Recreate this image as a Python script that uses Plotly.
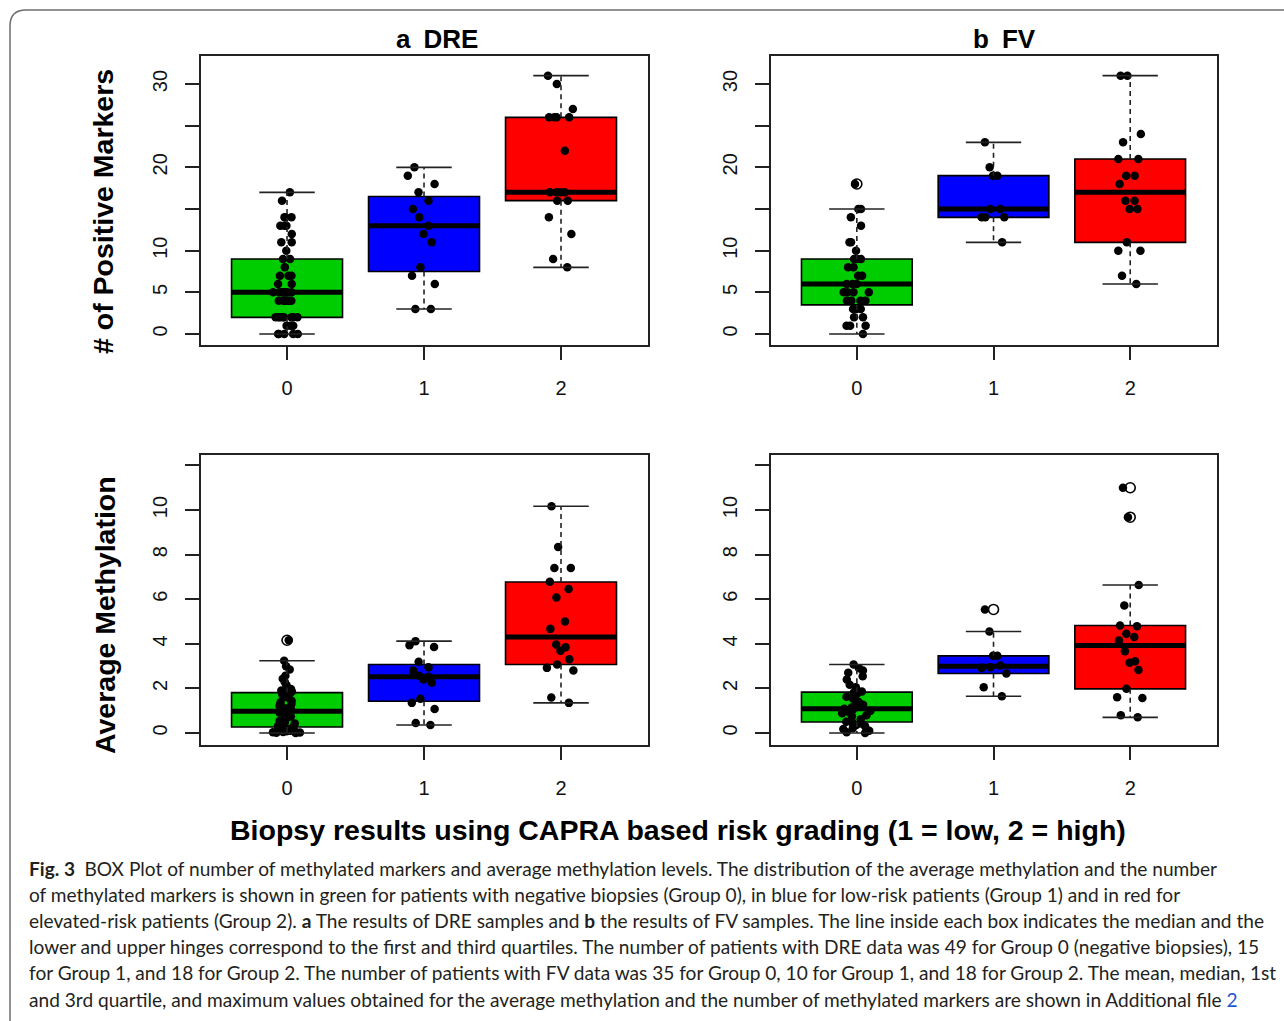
import plotly.graph_objects as go

W, H = 1284, 1021

groups = [0, 1, 2]
group_labels = ["0", "1", "2"]
box_colors = ["#00CD00", "#0000FF", "#FF0000"]

# ---------------- a DRE : number of positive markers ----------------
dre_n_g0 = [17, 16, 14, 14, 14, 13, 13, 13, 12, 11, 11, 10, 9, 9, 8, 7, 7, 7, 6, 6,
            5, 5, 5, 5, 5, 5, 5, 4, 4, 4, 4, 4, 4, 2, 2, 2, 2, 2, 2, 2, 2, 1, 1, 1,
            0, 0, 0, 0, 0]
dre_n_g1 = [20, 19, 18, 17, 16, 15, 14, 13, 12, 11, 8, 7, 6, 3, 3]
dre_n_g2 = [31, 30, 27, 26, 26, 26, 26, 22, 17, 17, 17, 17, 16, 16, 14, 12, 9, 8]
dre_n_q1 = [2, 7.5, 16]
dre_n_med = [5, 13, 17]
dre_n_q3 = [9, 16.5, 26]
dre_n_lo = [0, 3, 8]
dre_n_hi = [17, 20, 31]
dre_n_out = [[], [], []]

# ---------------- b FV : number of positive markers ----------------
fv_n_g0 = [18, 15, 15, 14, 13, 11, 11, 10, 9, 9, 9, 8, 8, 7, 7, 6, 6, 6, 5, 5, 5, 5,
           4, 4, 4, 4, 3, 3, 3, 2, 2, 1, 1, 1, 0]
fv_n_g1 = [23, 20, 19, 19, 15, 15, 14, 14, 14, 11]
fv_n_g2 = [31, 31, 24, 23, 21, 21, 19, 19, 18, 16, 16, 15, 15, 11, 10, 10, 7, 6]
fv_n_q1 = [3.5, 14, 11]
fv_n_med = [6, 15, 17]
fv_n_q3 = [9, 19, 21]
fv_n_lo = [0, 11, 6]
fv_n_hi = [15, 23, 31]
fv_n_out = [[18], [], []]

# ---------------- a DRE : average methylation ----------------
dre_m_g0 = [4.16, 3.24, 2.99, 2.85, 2.57, 2.43, 2.28, 2.14, 1.97, 1.91, 1.86, 1.83, 1.81,
            1.72, 1.62, 1.57, 1.45, 1.38, 1.30, 1.22, 1.15, 1.10, 1.05, 1.02, 0.97, 0.92,
            0.85, 0.80, 0.74, 0.68, 0.62, 0.55, 0.48, 0.42, 0.36, 0.31, 0.27, 0.22, 0.18,
            0.15, 0.12, 0.10, 0.08, 0.06, 0.04, 0.03, 0.02, 0.01, 0.0]
dre_m_g1 = [4.12, 3.94, 3.86, 3.19, 2.95, 2.80, 2.57, 2.52, 2.40, 2.25, 1.53, 1.35, 1.08,
            0.45, 0.36]
dre_m_g2 = [10.17, 8.34, 7.40, 7.40, 6.78, 6.46, 6.08, 5.00, 4.67, 3.97, 3.85, 3.69, 3.31,
            3.07, 2.92, 2.80, 1.59, 1.35]
dre_m_q1 = [0.27, 1.42, 3.07]
dre_m_med = [0.97, 2.52, 4.31]
dre_m_q3 = [1.81, 3.07, 6.77]
dre_m_lo = [0.0, 0.36, 1.35]
dre_m_hi = [3.24, 4.12, 10.17]
dre_m_out = [[4.16], [], []]

# ---------------- b FV : average methylation ----------------
fv_m_g0 = [3.07, 2.90, 2.80, 2.70, 2.54, 2.40, 2.16, 2.05, 1.86, 1.80, 1.75, 1.62, 1.53,
           1.40, 1.27, 1.20, 1.15, 1.09, 1.05, 1.00, 0.95, 0.88, 0.80, 0.75, 0.62, 0.50,
           0.48, 0.42, 0.36, 0.30, 0.21, 0.18, 0.10, 0.03, 0.00]
fv_m_g1 = [5.54, 4.55, 3.46, 3.46, 3.03, 2.95, 2.92, 2.67, 2.05, 1.65]
fv_m_g2 = [11.0, 9.68, 6.64, 5.72, 4.82, 4.79, 4.45, 4.30, 4.15, 3.67, 3.22, 3.15, 2.83,
           1.98, 1.60, 1.57, 0.79, 0.70]
fv_m_q1 = [0.49, 2.67, 1.98]
fv_m_med = [1.09, 2.99, 3.92]
fv_m_q3 = [1.83, 3.46, 4.82]
fv_m_lo = [0.0, 1.65, 0.70]
fv_m_hi = [3.07, 4.55, 6.64]
fv_m_out = [[], [5.54], [9.68, 11.0]]

count_ticks = [0, 5, 10, 15, 20, 25, 30]
count_ticktext = ["0", "5", "10", "", "20", "", "30"]
meth_ticks = [0, 2, 4, 6, 8, 10, 12]
meth_ticktext = ["0", "2", "4", "6", "8", "10", ""]

panel_titles = ["<b>a</b>\u2002<b>DRE</b>", "<b>b</b>\u2002<b>FV</b>"]
ylab_top = "# of Positive Markers"
ylab_bottom = "Average Methylation"
xlab = "Biopsy results using CAPRA based risk grading (1 = low, 2 = high)"

caption_lines = [
    "<b>Fig. 3</b>\u2002BOX Plot of number of methylated markers and average methylation levels. The distribution of the average methylation and the number",
    "of methylated markers is shown in green for patients with negative biopsies (Group 0), in blue for low-risk patients (Group 1) and in red for",
    "elevated-risk patients (Group 2). <b>a</b> The results of DRE samples and <b>b</b> the results of FV samples. The line inside each box indicates the median and the",
    "lower and upper hinges correspond to the first and third quartiles. The number of patients with DRE data was 49 for Group 0 (negative biopsies), 15",
    "for Group 1, and 18 for Group 2. The number of patients with FV data was 35 for Group 0, 10 for Group 1, and 18 for Group 2. The mean, median, 1st",
    "and 3rd quartile, and maximum values obtained for the average methylation and the number of methylated markers are shown in Additional file <span style='color:#2255d0'>2</span>",
]

# ---------------- layout geometry (pixels) ----------------
def px(x):
    return x / W

def py(y):
    return 1 - y / H

BOX_W = 0.81
HALF = BOX_W / 2
CAP = BOX_W / 4

panels = [
    dict(data=[dre_n_g0, dre_n_g1, dre_n_g2], q1=dre_n_q1, med=dre_n_med, q3=dre_n_q3,
         lo=dre_n_lo, hi=dre_n_hi, out=dre_n_out, xd=(201, 648), yd=(56, 345),
         yr=[-1.32, 33.36], tv=count_ticks, tt=count_ticktext),
    dict(data=[fv_n_g0, fv_n_g1, fv_n_g2], q1=fv_n_q1, med=fv_n_med, q3=fv_n_q3,
         lo=fv_n_lo, hi=fv_n_hi, out=fv_n_out, xd=(771, 1217), yd=(56, 345),
         yr=[-1.32, 33.36], tv=count_ticks, tt=count_ticktext),
    dict(data=[dre_m_g0, dre_m_g1, dre_m_g2], q1=dre_m_q1, med=dre_m_med, q3=dre_m_q3,
         lo=dre_m_lo, hi=dre_m_hi, out=dre_m_out, xd=(201, 648), yd=(455, 745),
         yr=[-0.54, 12.47], tv=meth_ticks, tt=meth_ticktext),
    dict(data=[fv_m_g0, fv_m_g1, fv_m_g2], q1=fv_m_q1, med=fv_m_med, q3=fv_m_q3,
         lo=fv_m_lo, hi=fv_m_hi, out=fv_m_out, xd=(771, 1217), yd=(455, 745),
         yr=[-0.54, 12.47], tv=meth_ticks, tt=meth_ticktext),
]

fig = go.Figure()
layout = {}
TICKFONT = dict(family="Liberation Sans, Arial, sans-serif", size=20, color="#111111")

for i, p in enumerate(panels, start=1):
    xa = "x" if i == 1 else f"x{i}"
    ya = "y" if i == 1 else f"y{i}"
    for g, col in zip(groups, box_colors):
        # box body (precomputed hinges)
        fig.add_trace(go.Box(
            x=[g], q1=[p["q1"][g]], median=[p["med"][g]], q3=[p["q3"][g]],
            lowerfence=[p["q1"][g]], upperfence=[p["q3"][g]],
            width=BOX_W, whiskerwidth=0, fillcolor=col,
            line=dict(color="black", width=1.6), boxpoints=False,
            xaxis=xa, yaxis=ya, showlegend=False, hoverinfo="skip"))
        # jittered observations
        vals = p["data"][g]
        fig.add_trace(go.Box(
            x=[g] * len(vals), y=vals, width=BOX_W, boxpoints="all", jitter=0.3,
            pointpos=0, fillcolor="rgba(0,0,0,0)",
            line=dict(color="rgba(0,0,0,0)", width=0),
            marker=dict(color="black", size=8.5, line=dict(width=0)),
            xaxis=xa, yaxis=ya, showlegend=False, hoverinfo="skip"))
    mx, my = [], []
    wx, wy = [], []
    cx, cy = [], []
    ox, oy = [], []
    for g in groups:
        mx += [g - HALF, g + HALF, None]
        my += [p["med"][g], p["med"][g], None]
        wx += [g, g, None, g, g, None]
        wy += [p["q3"][g], p["hi"][g], None, p["q1"][g], p["lo"][g], None]
        cx += [g - CAP, g + CAP, None, g - CAP, g + CAP, None]
        cy += [p["hi"][g], p["hi"][g], None, p["lo"][g], p["lo"][g], None]
        for v in p["out"][g]:
            ox.append(g)
            oy.append(v)
    fig.add_trace(go.Scatter(x=wx, y=wy, mode="lines",
                             line=dict(color="#222222", width=1.6, dash="5px,4px"),
                             xaxis=xa, yaxis=ya, showlegend=False, hoverinfo="skip"))
    fig.add_trace(go.Scatter(x=cx, y=cy, mode="lines",
                             line=dict(color="#222222", width=1.6),
                             xaxis=xa, yaxis=ya, showlegend=False, hoverinfo="skip"))
    fig.add_trace(go.Scatter(x=mx, y=my, mode="lines",
                             line=dict(color="black", width=5),
                             xaxis=xa, yaxis=ya, showlegend=False, hoverinfo="skip"))
    if ox:
        fig.add_trace(go.Scatter(x=ox, y=oy, mode="markers",
                                 marker=dict(symbol="circle-open", size=10, color="black",
                                             line=dict(width=1.6, color="black")),
                                 xaxis=xa, yaxis=ya, showlegend=False, hoverinfo="skip"))

    xname = "xaxis" if i == 1 else f"xaxis{i}"
    yname = "yaxis" if i == 1 else f"yaxis{i}"
    layout[xname] = dict(
        domain=[px(p["xd"][0]), px(p["xd"][1])], anchor=ya, range=[-0.628, 2.635],
        tickmode="array", tickvals=groups, ticktext=group_labels,
        ticks="outside", ticklen=13, tickwidth=1.5, tickcolor="#222222",
        showline=True, mirror=True, linecolor="#222222", linewidth=1.6,
        showgrid=False, zeroline=False, tickfont=TICKFONT, ticklabelstandoff=11)
    layout[yname] = dict(
        domain=[py(p["yd"][1]), py(p["yd"][0])], anchor=xa, range=p["yr"],
        tickmode="array", tickvals=p["tv"], ticktext=p["tt"], tickangle=-90,
        ticks="outside", ticklen=14, tickwidth=1.5, tickcolor="#222222",
        showline=True, mirror=True, linecolor="#222222", linewidth=1.6,
        showgrid=False, zeroline=False, tickfont=TICKFONT, ticklabelstandoff=10)

BOLD = dict(family="Liberation Sans, Arial, sans-serif", size=28.5, color="black")
TITLEFONT = dict(family="Liberation Sans, Arial, sans-serif", size=26, color="black")
C = dict(xref="paper", yref="paper", xanchor="center", yanchor="middle", showarrow=False)
annotations = [
    dict(text=panel_titles[0], x=px(437), y=py(39), font=TITLEFONT, **C),
    dict(text=panel_titles[1], x=px(1005), y=py(39), font=TITLEFONT, **C),
    dict(text=f"<b>{ylab_top}</b>", x=px(103), y=py(212), textangle=-90, font=BOLD, **C),
    dict(text=f"<b>{ylab_bottom}</b>", x=px(105), y=py(615), textangle=-90, font=BOLD, **C),
    dict(text=f"<b>{xlab}</b>", x=px(678), y=py(830), font=BOLD, **C),
]
cap_y = [868, 894, 920, 946, 972, 999]
for line, yy in zip(caption_lines, cap_y):
    annotations.append(dict(text=line, x=px(27), y=py(yy), xref="paper", yref="paper",
                            xanchor="left", yanchor="middle", showarrow=False, align="left",
                            font=dict(family="Lato, Open Sans, sans-serif", size=19.1,
                                      color="#231f20")))

# rounded outer frame of the figure panel
x0, y0, r = px(10), py(10), 16
frame_path = (f"M {x0},{py(1040)} L {x0},{py(10 + r)} "
              f"Q {x0},{y0} {px(10 + r)},{y0} L {px(1300)},{y0}")

fig.update_layout(
    width=W, height=H, margin=dict(l=0, r=0, t=0, b=0),
    paper_bgcolor="white", plot_bgcolor="white", boxmode="overlay",
    annotations=annotations,
    shapes=[dict(type="path", path=frame_path, xref="paper", yref="paper",
                 line=dict(color="#6e6e6e", width=1.5))],
    **layout)

fig.write_html("out.html", config={"displayModeBar": False},
               post_script="document.body.style.margin='0px';document.body.style.overflow='hidden';")
